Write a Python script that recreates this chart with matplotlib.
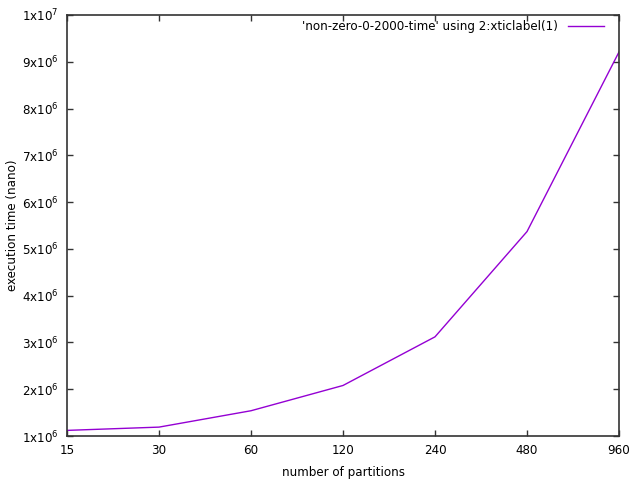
import numpy as np
import matplotlib
matplotlib.use("Agg")
from matplotlib import pyplot as plt

partitions = ["15", "30", "60", "120", "240", "480", "960"]
exec_time = [1.12e6, 1.19e6, 1.54e6, 2.08e6, 3.12e6, 5.37e6, 9.21e6]
yticks = [1e6, 2e6, 3e6, 4e6, 5e6, 6e6, 7e6, 8e6, 9e6, 1e7]
ytick_labels = [r"$\mathregular{%dx10^{6}}$" % k for k in range(1, 10)] + [r"$\mathregular{1x10^{7}}$"]

plt.rcParams["font.family"] = "DejaVu Sans"
plt.rcParams["font.size"] = 8.6

fig = plt.figure(figsize=(6.4, 4.8), dpi=100)
ax = fig.add_axes([67 / 640, 44 / 480, 552 / 640, 421 / 480])

x = np.arange(len(partitions))
ax.plot(x, exec_time, color="#9400d3", lw=1,
        label="'non-zero-0-2000-time' using 2:xticlabel(1)")

ax.set_xlim(0, len(partitions) - 1)
ax.set_ylim(1e6, 1e7)
ax.set_xticks(x)
ax.set_xticklabels(partitions)
ax.set_yticks(yticks)
ax.set_yticklabels(ytick_labels)

ax.tick_params(direction="in", top=True, right=True, length=4.2, width=1, color="#333333", pad=6)
for s in ax.spines.values():
    s.set_color("#333333")
    s.set_linewidth(1.2)

ax.set_xlabel("number of partitions", labelpad=6)
ax.set_ylabel("execution time (nano)", labelpad=2)
ax.legend(loc="upper right", bbox_to_anchor=(0.984, 1.002), frameon=False, markerfirst=False,
          handlelength=3.0, handletextpad=0.9, borderaxespad=0.1, fontsize=8.6)

fig.savefig("out.png", dpi=100)
